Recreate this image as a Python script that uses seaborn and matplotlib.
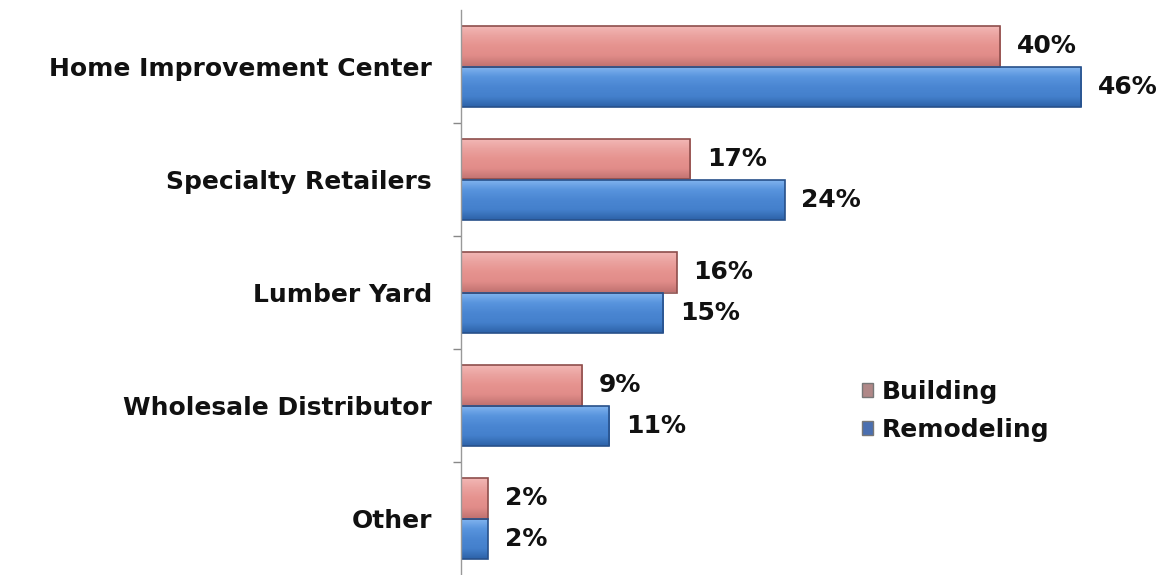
import matplotlib
matplotlib.use("Agg")
import matplotlib.pyplot as plt
import matplotlib.colors as mcolors
import seaborn as sns
import pandas as pd
import numpy as np

categories = ["Home Improvement Center", "Specialty Retailers", "Lumber Yard",
              "Wholesale Distributor", "Other"]
building = [40, 17, 16, 9, 2]
remodeling = [46, 24, 15, 11, 2]
series_names = ["Building", "Remodeling"]
colors = ["#E6928F", "#4A86D2"]
edge_colors = ["#8E4E4C", "#27508A"]
# top-to-bottom shading for the bevelled bar look
shades = [["#F3B9B7", "#EBA3A0", "#E6938F", "#E18C89", "#C27371"],
          ["#84B6F0", "#5995DE", "#4A86D2", "#4480CC", "#2D62A8"]]

df = pd.DataFrame({
    "category": categories * 2,
    "value": building + remodeling,
    "series": [series_names[0]] * len(categories) + [series_names[1]] * len(categories),
})

sns.set_theme(style="white")
plt.rcParams["font.family"] = ["DejaVu Sans"]

fig = plt.figure(figsize=(11.72, 5.75), dpi=100)
ax = fig.add_axes([461 / 1172, 0.0, (1135 - 461) / 1172, 1 - 10 / 575])

sns.barplot(data=df, y="category", x="value", hue="series", order=categories,
            hue_order=series_names, palette=colors, saturation=1, width=0.72,
            orient="h", ax=ax, legend=True)

ax.set_xlim(0, 50)
ax.set_ylim(len(categories) - 0.5, -0.5)

# gradient fill clipped to each bar, outline drawn on top
grad = np.linspace(0, 1, 64).reshape(-1, 1)
for container, ec, sh in zip(ax.containers, edge_colors, shades):
    cmap = mcolors.LinearSegmentedColormap.from_list("shade", sh)
    for bar in container:
        x0, y0 = bar.get_x(), bar.get_y()
        w, h = bar.get_width(), bar.get_height()
        img = ax.imshow(grad, cmap=cmap, aspect="auto", interpolation="bilinear",
                        extent=(x0, x0 + w, y0 + h, y0), origin="upper",
                        zorder=bar.get_zorder())
        img.set_clip_path(bar)
        bar.set_facecolor("none")
        bar.set_edgecolor(ec)
        bar.set_linewidth(1.2)
        bar.set_zorder(bar.get_zorder() + 0.2)
ax.set_xlim(0, 50)
ax.set_ylim(len(categories) - 0.5, -0.5)

# value labels to the right of each bar
for container in ax.containers:
    ax.bar_label(container, labels=[f"{int(v)}%" for v in container.datavalues],
                 padding=12, fontsize=18, fontweight="bold", color="#111111")

ax.set_xlabel("")
ax.set_ylabel("")
ax.set_xticks([])
ax.tick_params(axis="y", which="major", length=0, pad=21, labelsize=18)
for lbl in ax.get_yticklabels():
    lbl.set_fontweight("bold")
    lbl.set_color("#111111")
ax.set_yticks(np.arange(0.5, len(categories) - 0.5, 1), minor=True)
ax.tick_params(axis="y", which="minor", length=6, width=1, color="#888888",
               direction="out", left=True)

for side in ["top", "right", "bottom"]:
    ax.spines[side].set_visible(False)
ax.spines["left"].set_color("#999999")
ax.spines["left"].set_linewidth(1)

leg = ax.legend(loc="upper left",
                bbox_to_anchor=((852 - 461) / (1135 - 461), 1 - (370 - 10) / 565),
                frameon=False, fontsize=18, handlelength=0.45, handleheight=0.45,
                handletextpad=0.35, labelspacing=0.55, borderaxespad=0)
for t in leg.get_texts():
    t.set_fontweight("bold")
    t.set_color("#111111")
for h, c in zip(leg.legend_handles, ["#B08888", "#4A6FB0"]):
    h.set_facecolor(c)
    h.set_edgecolor("#777777")

fig.savefig("out.png", dpi=100, facecolor="white")
